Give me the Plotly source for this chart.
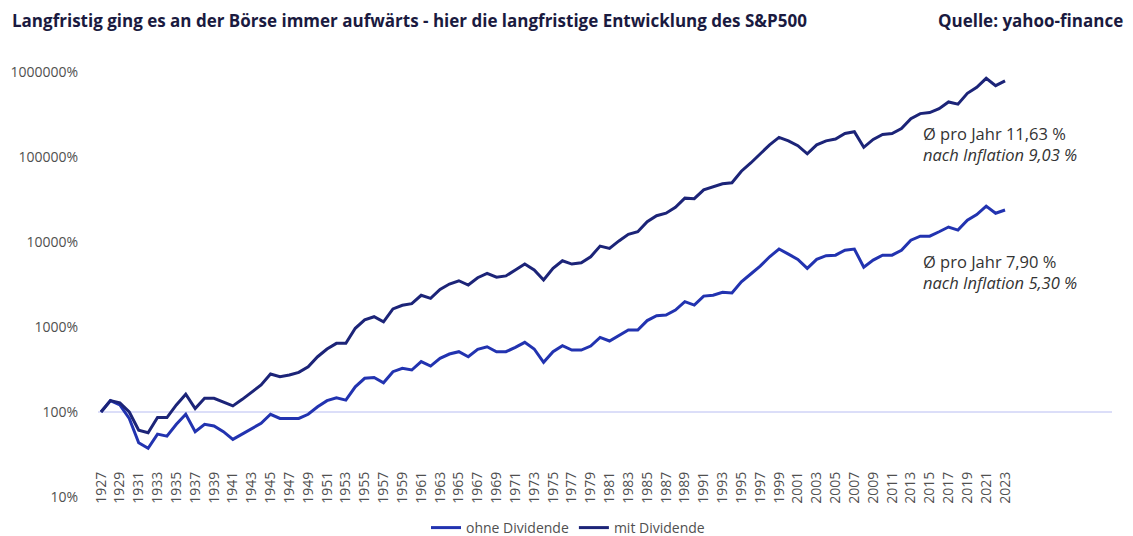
import plotly.graph_objects as go

years = list(range(1927, 2024))

ohne_dividende = [
    100, 136, 121, 84, 43.5, 37.4, 55, 52, 71.6, 94,
    58.7, 71.6, 68.4, 58.7, 47.7, 55, 64, 73.6, 94, 84,
    84, 84, 94, 115, 136, 147, 138, 198, 249, 255,
    221, 298, 326, 312, 392, 347, 428, 481, 512, 447,
    546, 586, 512, 512, 576, 660, 551, 384, 512, 602,
    535, 535, 597, 755, 684, 792, 922, 922, 1190, 1360,
    1380, 1580, 1985, 1810, 2310, 2370, 2560, 2520, 3400, 4200,
    5200, 6700, 8270, 7200, 6250, 4900, 6250, 6900, 7000, 8000,
    8270, 5050, 6130, 7000, 7000, 8000, 10500, 11700, 11700, 13200,
    15000, 13800, 18100, 21000, 26400, 21800, 23800,
]

mit_dividende = [
    100, 136, 128, 100, 61, 57, 86, 86, 121, 162,
    110, 145, 145, 130, 118, 141, 173, 208, 280, 260,
    272, 293, 341, 447, 551, 642, 642, 965, 1213, 1320,
    1150, 1630, 1800, 1880, 2360, 2170, 2770, 3200, 3500, 3120,
    3800, 4280, 3850, 3990, 4690, 5500, 4690, 3570, 4900, 6020,
    5500, 5700, 6700, 8950, 8400, 10300, 12300, 13200, 17300, 20400,
    21800, 25600, 32800, 32300, 41000, 45000, 48500, 49800, 68000, 85000,
    108000, 139000, 170000, 155000, 136000, 109000, 139000, 155000, 163000, 189000,
    198000, 130000, 161000, 184000, 189000, 216000, 283000, 324000, 333000, 370000,
    444000, 418000, 561000, 660000, 842000, 690000, 786000,
]

x_tick_vals = list(range(1927, 2024, 2))
x_tick_text = [str(y) for y in x_tick_vals]
y_tick_vals = [10, 100, 1000, 10000, 100000, 1000000]
y_tick_text = ["10%", "100%", "1000%", "10000%", "100000%", "1000000%"]

title_text = "Langfristig ging es an der Börse immer aufwärts - hier die langfristige Entwicklung des S&P500"
source_text = "Quelle: yahoo-finance"
ann_mit = ("Ø pro Jahr 11,63 %", "nach Inflation 9,03 %")
ann_ohne = ("Ø pro Jahr 7,90 %", "nach Inflation 5,30 %")

c_ohne = "#2233b0"
c_mit = "#1c2478"

# page offset (body margin) compensation
OFF = 8
L, R, T, B = 90, 29, 64, 47
W, H = 1133, 536
PW = W - L - R
PH = H - T - B


def px(page_x):
    return (page_x - OFF - L) / PW


def py(page_y):
    return (H - B - (page_y - OFF)) / PH


fig = go.Figure()
fig.add_trace(go.Scatter(x=years, y=ohne_dividende, mode="lines", name="ohne Dividende",
                         line=dict(color=c_ohne, width=3)))
fig.add_trace(go.Scatter(x=years, y=mit_dividende, mode="lines", name="mit Dividende",
                         line=dict(color=c_mit, width=3)))

fig.add_shape(type="line", xref="paper", yref="y", x0=0, x1=1, y0=100, y1=100,
              line=dict(color="#b8bdf2", width=1), layer="below")

font_fam = "Open Sans, Noto Sans, sans-serif"
tick_col = "#505050"

fig.update_layout(
    width=W, height=H,
    margin=dict(l=L, r=R, t=T, b=B, autoexpand=False),
    paper_bgcolor="white", plot_bgcolor="white",
    font=dict(family=font_fam, color=tick_col),
    showlegend=True,
    legend=dict(orientation="h", xref="container", yref="container",
                x=(568 - OFF) / W, xanchor="center", y=(H - (528 - OFF)) / H, yanchor="middle",
                font=dict(size=14, color=tick_col), tracegroupgap=0),
    xaxis=dict(range=[1926.68, 2034.36], tickmode="array", tickvals=x_tick_vals,
               ticktext=x_tick_text, tickangle=-90, showgrid=False, zeroline=False,
               showline=False, ticks="", anchor="free", position=py(468), automargin=False,
               tickfont=dict(size=14, color=tick_col)),
    yaxis=dict(type="log", range=[1, 6], tickmode="array", tickvals=y_tick_vals,
               ticktext=y_tick_text, showgrid=False, zeroline=False, showline=False,
               ticks="", ticklabelstandoff=19, automargin=False,
               tickfont=dict(size=14, color=tick_col)),
)

fig.add_annotation(text="<b>" + title_text + "</b>", xref="paper", yref="paper",
                   x=px(10), y=py(21), xanchor="left", yanchor="middle", showarrow=False,
                   font=dict(size=17, color="#1a1a40", family=font_fam))
fig.add_annotation(text="<b>" + source_text + "</b>", xref="paper", yref="paper",
                   x=px(1125), y=py(21), xanchor="right", yanchor="middle", showarrow=False,
                   font=dict(size=17, color="#1a1a40", family=font_fam))

for (l1, l2), yc in ((ann_mit, 144), (ann_ohne, 272)):
    fig.add_annotation(text=l1 + "<br><i>" + l2 + "</i>", xref="paper", yref="paper",
                       x=px(921), y=py(yc), xanchor="left", yanchor="middle", align="left",
                       showarrow=False,
                       font=dict(size=16.5, color="#333333", family=font_fam))

fig.write_html("out.html")
